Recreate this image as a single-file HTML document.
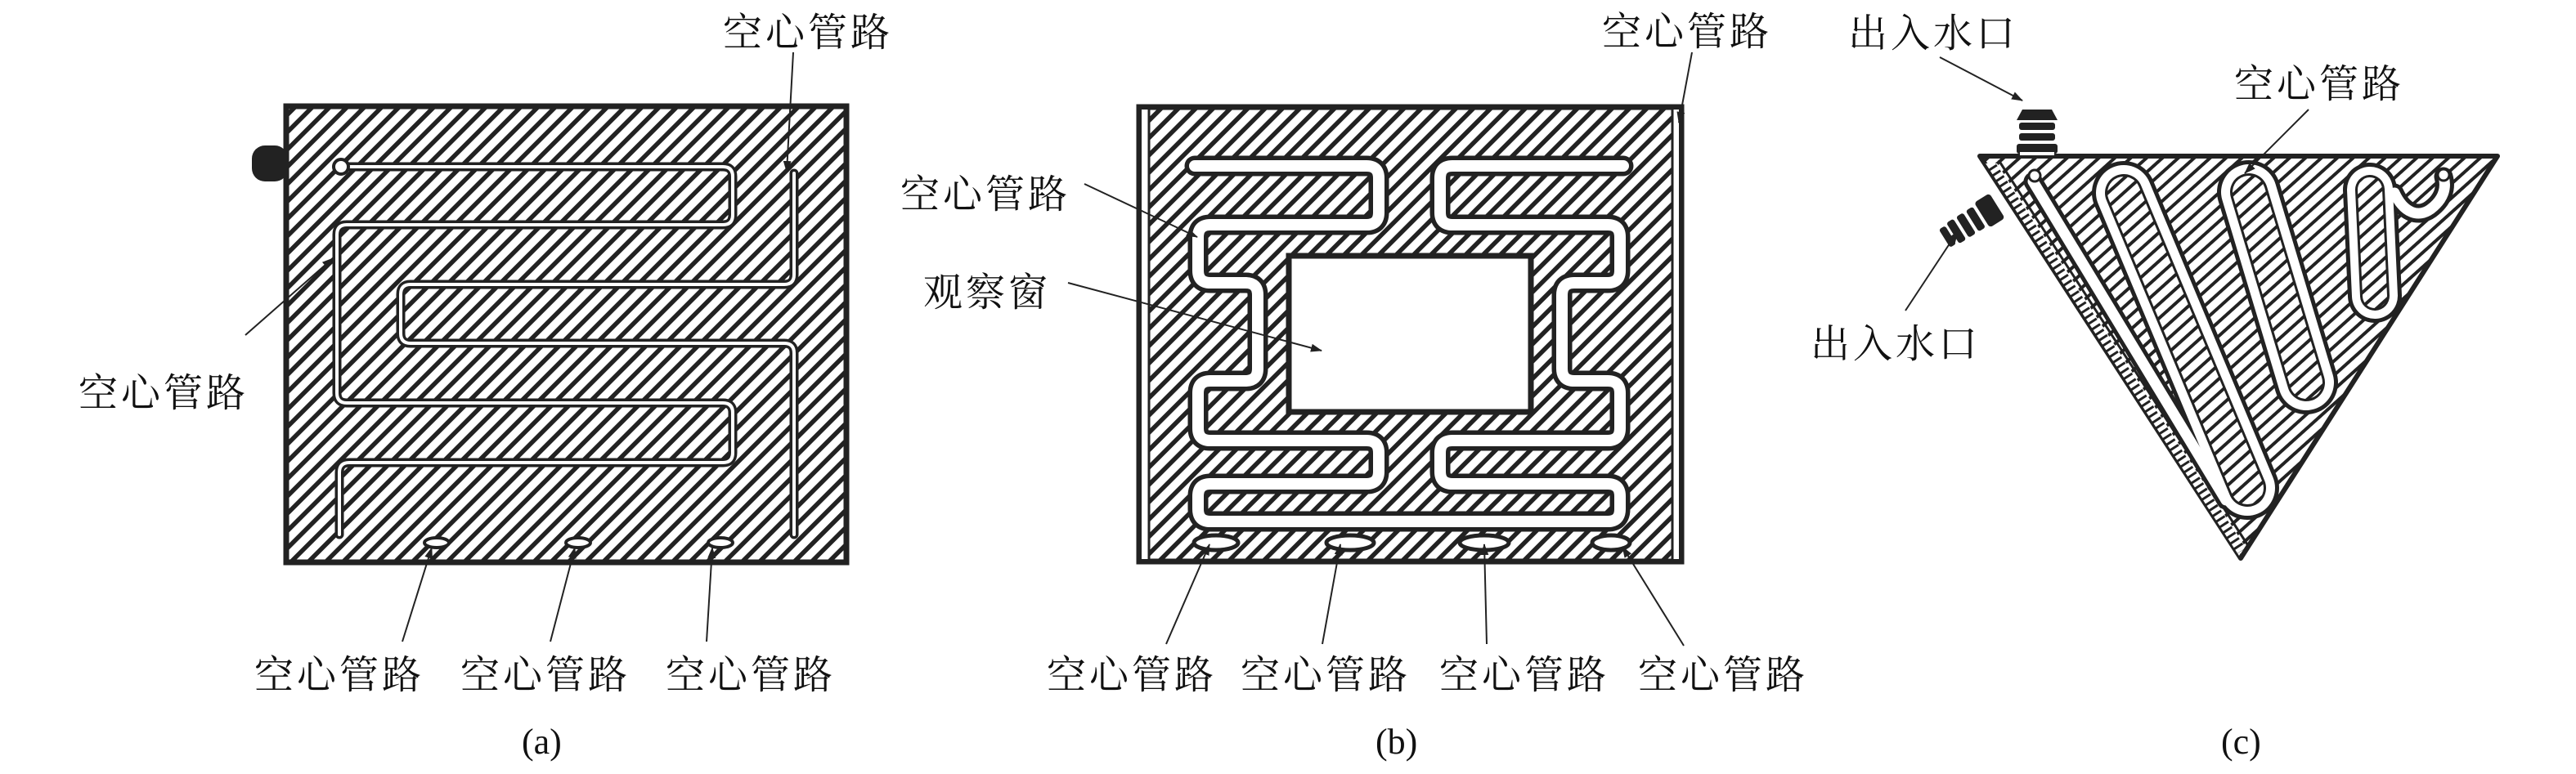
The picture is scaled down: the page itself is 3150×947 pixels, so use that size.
<!DOCTYPE html>
<html><head><meta charset="utf-8"><style>
html,body{margin:0;padding:0;background:#fff;}
svg{display:block;}
.t{font-family:"Liberation Serif","Noto Serif CJK SC",serif;font-size:48px;fill:#111;letter-spacing:4px;}
.p{font-family:"Liberation Serif","Noto Serif CJK SC",serif;font-size:44px;fill:#111;}
</style></head><body>
<svg width="3150" height="947" viewBox="0 0 3150 947" xmlns="http://www.w3.org/2000/svg">
<defs>
<pattern id="h1" width="15" height="15" patternUnits="userSpaceOnUse" patternTransform="rotate(-45)">
<rect width="15" height="15" fill="#fff"/><rect y="0" width="15" height="5.5" fill="#222"/></pattern>
<pattern id="h2" width="13" height="13" patternUnits="userSpaceOnUse" patternTransform="rotate(-42)">
<rect width="13" height="13" fill="#fff"/><rect y="0" width="13" height="4" fill="#222"/></pattern>
<marker id="ar" markerWidth="14" markerHeight="10" refX="13" refY="5" orient="auto" markerUnits="userSpaceOnUse">
<path d="M0,0 L14,5 L0,10 Z" fill="#222"/></marker>
</defs>

<!-- (a) -->
<rect x="350" y="130" width="685" height="558" fill="url(#h1)" stroke="#222" stroke-width="7"/>
<rect x="308" y="178" width="44" height="44" rx="16" fill="#222"/>
<g fill="none" stroke-linecap="round">
<path d="M417,204 H884 Q896,204 896,216 V263 Q896,275 884,275 H424 Q412,275 412,287 V481 Q412,493 424,493 H884 Q896,493 896,505 V554 Q896,566 884,566 H427 Q415,566 415,578 V654" stroke="#222" stroke-width="11"/>
<path d="M417,204 H884 Q896,204 896,216 V263 Q896,275 884,275 H424 Q412,275 412,287 V481 Q412,493 424,493 H884 Q896,493 896,505 V554 Q896,566 884,566 H427 Q415,566 415,578 V654" stroke="#fff" stroke-width="4"/>
<path d="M971,212 V336 Q971,348 959,348 H502 Q490,348 490,360 V408 Q490,420 502,420 H959 Q971,420 971,432 V654" stroke="#222" stroke-width="11"/>
<path d="M971,212 V336 Q971,348 959,348 H502 Q490,348 490,360 V408 Q490,420 502,420 H959 Q971,420 971,432 V654" stroke="#fff" stroke-width="4"/>
</g>
<circle cx="417" cy="204" r="9" fill="#fff" stroke="#222" stroke-width="4"/>
<g fill="#fff" stroke="#222" stroke-width="4">
<ellipse cx="534" cy="664" rx="15" ry="6"/><ellipse cx="707" cy="664" rx="15" ry="6"/><ellipse cx="881" cy="664" rx="15" ry="6"/>
</g>
<g stroke="#222" stroke-width="2" fill="none">
<line x1="970" y1="64" x2="962" y2="210" marker-end="url(#ar)"/>
<line x1="300" y1="410" x2="407" y2="316" marker-end="url(#ar)"/>
<line x1="492" y1="785" x2="528" y2="670" marker-end="url(#ar)"/>
<line x1="673" y1="785" x2="703" y2="670" marker-end="url(#ar)"/>
<line x1="864" y1="785" x2="871" y2="670" marker-end="url(#ar)"/>
</g>
<text class="t" x="884" y="56">空心管路</text>
<text class="t" x="96" y="497">空心管路</text>
<text class="t" x="311" y="842">空心管路</text>
<text class="t" x="563" y="842">空心管路</text>
<text class="t" x="814" y="842">空心管路</text>
<text class="p" x="638" y="922">(a)</text>

<!-- (b) -->
<rect x="1393" y="131" width="663" height="556" fill="url(#h1)" stroke="#222" stroke-width="7"/>
<rect x="1396" y="134" width="8" height="550" fill="#fff"/>
<line x1="1405" y1="134" x2="1405" y2="684" stroke="#222" stroke-width="3"/>
<rect x="2046" y="134" width="7" height="550" fill="#fff"/>
<line x1="2045" y1="134" x2="2045" y2="684" stroke="#222" stroke-width="3"/>
<rect x="1576" y="313" width="296" height="191" fill="#fff" stroke="#222" stroke-width="7"/>
<g fill="none" stroke-linecap="round" stroke-linejoin="round">
<path d="M1461,203 H1671 Q1686,203 1686,218 V260 Q1686,275 1671,275 H1480 Q1465,275 1465,290 V331 Q1465,346 1480,346 H1523 Q1538,346 1538,361 V451 Q1538,466 1523,466 H1480 Q1465,466 1465,481 V524 Q1465,539 1480,539 H1671 Q1686,539 1686,554 V577 Q1686,592 1671,592 H1480 Q1465,592 1465,607 V623 Q1465,638 1480,638 H1966 Q1981,638 1981,623 V607 Q1981,592 1966,592 H1776 Q1761,592 1761,577 V554 Q1761,539 1776,539 H1966 Q1981,539 1981,524 V481 Q1981,466 1966,466 H1925 Q1910,466 1910,451 V361 Q1910,346 1925,346 H1966 Q1981,346 1981,331 V290 Q1981,275 1966,275 H1776 Q1761,275 1761,260 V218 Q1761,203 1776,203 H1985" stroke="#222" stroke-width="25"/>
<path d="M1461,203 H1671 Q1686,203 1686,218 V260 Q1686,275 1671,275 H1480 Q1465,275 1465,290 V331 Q1465,346 1480,346 H1523 Q1538,346 1538,361 V451 Q1538,466 1523,466 H1480 Q1465,466 1465,481 V524 Q1465,539 1480,539 H1671 Q1686,539 1686,554 V577 Q1686,592 1671,592 H1480 Q1465,592 1465,607 V623 Q1465,638 1480,638 H1966 Q1981,638 1981,623 V607 Q1981,592 1966,592 H1776 Q1761,592 1761,577 V554 Q1761,539 1776,539 H1966 Q1981,539 1981,524 V481 Q1981,466 1966,466 H1925 Q1910,466 1910,451 V361 Q1910,346 1925,346 H1966 Q1981,346 1981,331 V290 Q1981,275 1966,275 H1776 Q1761,275 1761,260 V218 Q1761,203 1776,203 H1985" stroke="#fff" stroke-width="14"/>
</g>
<g fill="#fff" stroke="#222" stroke-width="5">
<ellipse cx="1487" cy="664" rx="27" ry="9"/><ellipse cx="1651" cy="664" rx="29" ry="9"/><ellipse cx="1815" cy="664" rx="30" ry="9"/><ellipse cx="1970" cy="664" rx="23" ry="9"/>
</g>
<g stroke="#222" stroke-width="2" fill="none">
<line x1="2069" y1="64" x2="2053" y2="150" marker-end="url(#ar)"/>
<line x1="1326" y1="225" x2="1464" y2="290" marker-end="url(#ar)"/>
<line x1="1306" y1="346" x2="1616" y2="429" marker-end="url(#ar)"/>
<line x1="1426" y1="788" x2="1479" y2="666" marker-end="url(#ar)"/>
<line x1="1617" y1="788" x2="1639" y2="666" marker-end="url(#ar)"/>
<line x1="1818" y1="788" x2="1815" y2="666" marker-end="url(#ar)"/>
<line x1="2059" y1="790" x2="1984" y2="669" marker-end="url(#ar)"/>
</g>
<text class="t" x="1959" y="55">空心管路</text>
<text class="t" x="1101" y="254">空心管路</text>
<text class="t" x="1129" y="374">观察窗</text>
<text class="t" x="1280" y="842">空心管路</text>
<text class="t" x="1517" y="842">空心管路</text>
<text class="t" x="1760" y="842">空心管路</text>
<text class="t" x="2003" y="842">空心管路</text>
<text class="p" x="1682" y="922">(b)</text>

<!-- (c) -->
<polygon points="2421,191 3054,191 2740,683" fill="url(#h2)" stroke="#222" stroke-width="6" stroke-linejoin="round"/>
<polygon points="2428,200 2442,200 2745,668 2738,680" fill="#fff"/>
<line x1="2436" y1="204" x2="2741" y2="674" stroke="#222" stroke-width="12" stroke-dasharray="3 5"/>
<line x1="2444" y1="196" x2="2748" y2="666" stroke="#222" stroke-width="3"/>
<g fill="none" stroke-linecap="round" stroke-linejoin="round">
<g stroke="#222">
<line x1="2597" y1="236" x2="2748" y2="597" stroke-width="78"/>
<line x1="2750" y1="235" x2="2820" y2="468" stroke-width="78"/>
<line x1="2898" y1="232" x2="2904" y2="362" stroke-width="66"/>
<path d="M2486,222 L2722,612" stroke-width="23"/>
<path d="M2928,236 C2940,262 2958,266 2972,256 C2988,244 2992,230 2988,216" stroke-width="23"/>
</g>
<g stroke="#fff">
<line x1="2597" y1="236" x2="2748" y2="597" stroke-width="68"/>
<line x1="2750" y1="235" x2="2820" y2="468" stroke-width="68"/>
<line x1="2898" y1="232" x2="2904" y2="362" stroke-width="56"/>
<path d="M2486,222 L2722,612" stroke-width="13"/>
<path d="M2928,236 C2940,262 2958,266 2972,256 C2988,244 2992,230 2988,216" stroke-width="13"/>
</g>
<g stroke="#222">
<line x1="2597" y1="236" x2="2748" y2="597" stroke-width="46"/>
<line x1="2750" y1="235" x2="2820" y2="468" stroke-width="46"/>
<line x1="2898" y1="232" x2="2904" y2="362" stroke-width="36"/>
</g>
<g stroke="url(#h2)">
<line x1="2597" y1="236" x2="2748" y2="597" stroke-width="40"/>
<line x1="2750" y1="235" x2="2820" y2="468" stroke-width="40"/>
<line x1="2898" y1="232" x2="2904" y2="362" stroke-width="30"/>
</g>
</g>
<circle cx="2488" cy="215" r="7" fill="#fff" stroke="#222" stroke-width="3"/>
<circle cx="2988" cy="214" r="7" fill="#fff" stroke="#222" stroke-width="3"/>
<!-- top connector -->
<g fill="#222">
<path d="M2473,134 H2509 L2516,147 H2466 Z"/>
<rect x="2469" y="150" width="44" height="9" rx="3"/>
<rect x="2469" y="163" width="44" height="9" rx="3"/>
<rect x="2466" y="176" width="50" height="12" rx="3"/>
</g>
<rect x="2470" y="186" width="42" height="4" fill="#fff"/>
<!-- side connector -->
<g transform="translate(2432,258) rotate(-32)" fill="#222">
<rect x="-10" y="-18" width="22" height="36" rx="4"/>
<rect x="-24" y="-15" width="10" height="30" rx="3"/>
<rect x="-38" y="-15" width="10" height="30" rx="3"/>
<rect x="-52" y="-15" width="10" height="30" rx="3"/>
<rect x="-64" y="-13" width="9" height="26" rx="3"/>
</g>
<g stroke="#222" stroke-width="2" fill="none">
<line x1="2372" y1="70" x2="2473" y2="123" marker-end="url(#ar)"/>
<line x1="2823" y1="134" x2="2745" y2="212" marker-end="url(#ar)"/>
<line x1="2330" y1="380" x2="2394" y2="283" marker-end="url(#ar)"/>
</g>
<text class="t" x="2260" y="57">出入水口</text>
<text class="t" x="2732" y="119">空心管路</text>
<text class="t" x="2214" y="437">出入水口</text>
<text class="p" x="2716" y="922">(c)</text>
</svg>
</body></html>
